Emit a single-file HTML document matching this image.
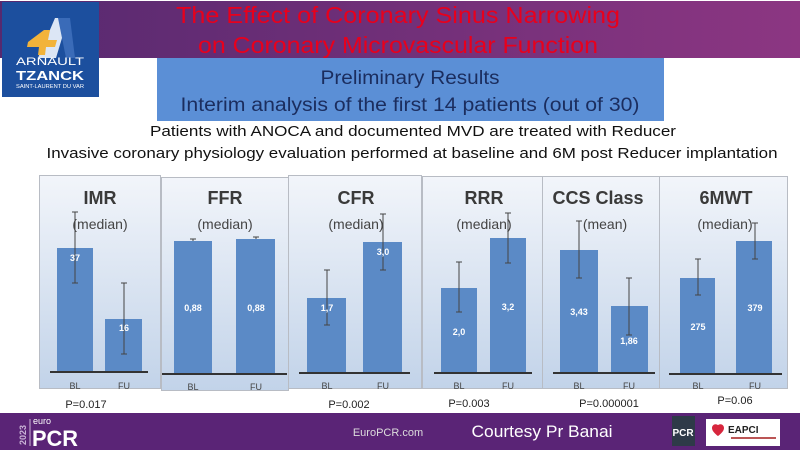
<!DOCTYPE html>
<html><head><meta charset="utf-8"><style>
html,body{margin:0;padding:0;background:#fff;width:800px;height:450px;overflow:hidden}
svg{display:block}
text{font-family:"Liberation Sans",sans-serif}
</style></head><body>
<svg width="800" height="450" viewBox="0 0 800 450" xmlns="http://www.w3.org/2000/svg">
<defs>
<linearGradient id="band" x1="0" x2="1" y1="0" y2="0"><stop offset="0" stop-color="#56296f"/><stop offset="1" stop-color="#8c3682"/></linearGradient>
<linearGradient id="pan" x1="0" x2="0" y1="0" y2="1"><stop offset="0" stop-color="#f2f5fa"/><stop offset="1" stop-color="#c2d3e9"/></linearGradient>
</defs>
<rect x="0" y="1" width="800" height="57" fill="url(#band)"/>
<text x="398" y="23" font-size="23" fill="#e8001c" text-anchor="middle" textLength="444" lengthAdjust="spacingAndGlyphs">The Effect of Coronary Sinus Narrowing</text>
<text x="398" y="53" font-size="23" fill="#e8001c" text-anchor="middle" textLength="400" lengthAdjust="spacingAndGlyphs">on Coronary Microvascular Function</text>
<!-- logo -->
<rect x="2" y="2" width="97" height="95" fill="#1c4f9e"/>
<path d="M38 58 L55 18 L68 18 L56 58 Z" fill="#dce6f5"/>
<path d="M58 18 L70 18 L75 58 L66 58 Z" fill="#3a6bb8"/>
<path d="M28 42 L44 30 L50 30 L48 40 L57 40 L55 47 L46 47 L45 55 L38 55 L39 47 L27 47 Z" fill="#f2b33a"/>
<text x="50" y="65" font-size="11" fill="#fff" text-anchor="middle" textLength="68" lengthAdjust="spacingAndGlyphs">ARNAULT</text>
<text x="50" y="80" font-size="13" font-weight="bold" fill="#fff" text-anchor="middle" textLength="68" lengthAdjust="spacingAndGlyphs">TZANCK</text>
<text x="50" y="88" font-size="5" fill="#fff" text-anchor="middle" textLength="68" lengthAdjust="spacingAndGlyphs">SAINT-LAURENT DU VAR</text>
<!-- blue box -->
<rect x="157" y="58" width="507" height="63" fill="#5b8fd6"/>
<text x="410" y="84" font-size="19" fill="#1b2d5e" text-anchor="middle" textLength="179" lengthAdjust="spacingAndGlyphs">Preliminary Results</text>
<text x="410" y="111" font-size="19" fill="#1b2d5e" text-anchor="middle" textLength="459" lengthAdjust="spacingAndGlyphs">Interim analysis of the first 14 patients (out of 30)</text>
<text x="413" y="136" font-size="15" fill="#111" text-anchor="middle" textLength="526" lengthAdjust="spacingAndGlyphs">Patients with ANOCA and documented MVD  are treated with Reducer</text>
<text x="412" y="158" font-size="15" fill="#111" text-anchor="middle" textLength="731" lengthAdjust="spacingAndGlyphs">Invasive coronary physiology evaluation performed at baseline and 6M post Reducer implantation</text>
<!-- panels -->
<g stroke="#b8bcc4" stroke-width="1">
<rect x="39.5" y="175.5" width="121" height="213" fill="url(#pan)"/>
<rect x="161.5" y="177.5" width="127" height="213" fill="url(#pan)"/>
<rect x="288.5" y="175.5" width="133" height="213" fill="url(#pan)"/>
<rect x="422.5" y="176.5" width="120" height="212" fill="url(#pan)"/>
<rect x="542.5" y="176.5" width="117" height="212" fill="url(#pan)"/>
<rect x="659.5" y="176.5" width="128" height="212" fill="url(#pan)"/>
</g>
<g font-weight="bold" font-size="18" fill="#3a3a3a" text-anchor="middle">
<text x="100" y="204">IMR</text><text x="225" y="204">FFR</text><text x="356" y="204">CFR</text>
<text x="484" y="204">RRR</text><text x="598" y="204">CCS Class</text><text x="726" y="204">6MWT</text>
</g>
<g font-size="14" fill="#444" text-anchor="middle">
<text x="100" y="229">(median)</text><text x="225" y="229">(median)</text><text x="356" y="229">(median)</text>
<text x="484" y="229">(median)</text><text x="605" y="229">(mean)</text><text x="725" y="229">(median)</text>
</g>
<!-- bars -->
<g fill="#5b8ac6">
<rect x="57" y="248" width="36" height="124"/><rect x="105" y="319" width="37" height="53"/>
<rect x="174" y="241" width="38" height="133"/><rect x="236" y="239" width="39" height="135"/>
<rect x="307" y="298" width="39" height="74"/><rect x="363" y="242" width="39" height="130"/>
<rect x="441" y="288" width="36" height="85"/><rect x="490" y="238" width="36" height="135"/>
<rect x="560" y="250" width="38" height="123"/><rect x="611" y="306" width="37" height="67"/>
<rect x="680" y="278" width="35" height="95"/><rect x="736" y="241" width="36" height="132"/>
</g>
<g stroke="#333" stroke-width="2">
<line x1="50" y1="372" x2="148" y2="372"/><line x1="162" y1="374" x2="287" y2="374"/>
<line x1="299" y1="373" x2="410" y2="373"/><line x1="434" y1="373" x2="532" y2="373"/>
<line x1="553" y1="373" x2="655" y2="373"/><line x1="669" y1="374" x2="782" y2="374"/>
</g>
<g stroke="#444" stroke-width="1" fill="none">
<path d="M75 212V283M72 212h6M72 283h6"/><path d="M124 283V354M121 283h6M121 354h6"/>
<path d="M193 239V241M190 239h6"/><path d="M256 237V239M253 237h6"/>
<path d="M327 270V325M324 270h6M324 325h6"/><path d="M383 214V270M380 214h6M380 270h6"/>
<path d="M459 262V312M456 262h6M456 312h6"/><path d="M508 213V263M505 213h6M505 263h6"/>
<path d="M579 221V278M576 221h6M576 278h6"/><path d="M629 278V335M626 278h6M626 335h6"/>
<path d="M698 259V295M695 259h6M695 295h6"/><path d="M755 223V259M752 223h6M752 259h6"/>
</g>
<g font-size="9" font-weight="bold" fill="#fff" text-anchor="middle">
<text x="75" y="261">37</text><text x="124" y="331">16</text>
<text x="193" y="311">0,88</text><text x="256" y="311">0,88</text>
<text x="327" y="311">1,7</text><text x="383" y="255">3,0</text>
<text x="459" y="335">2,0</text><text x="508" y="310">3,2</text>
<text x="579" y="315">3,43</text><text x="629" y="344">1,86</text>
<text x="698" y="330">275</text><text x="755" y="311">379</text>
</g>
<g font-size="9" fill="#444" text-anchor="middle">
<text x="75" y="389">BL</text><text x="124" y="389">FU</text>
<text x="193" y="390">BL</text><text x="256" y="390">FU</text>
<text x="327" y="389">BL</text><text x="383" y="389">FU</text>
<text x="459" y="389">BL</text><text x="508" y="389">FU</text>
<text x="579" y="389">BL</text><text x="629" y="389">FU</text>
<text x="698" y="389">BL</text><text x="755" y="389">FU</text>
</g>
<g font-size="11" fill="#222" text-anchor="middle">
<text x="86" y="408">P=0.017</text><text x="349" y="408">P=0.002</text>
<text x="469" y="407">P=0.003</text><text x="609" y="407">P=0.000001</text><text x="735" y="404">P=0.06</text>
</g>
<!-- footer -->
<rect x="0" y="413" width="800" height="37" fill="#5a2476"/>
<text x="26" y="445" font-size="9" font-weight="bold" fill="#c9b3d6" transform="rotate(-90 26 445)">2023</text>
<line x1="30" y1="419" x2="30" y2="446" stroke="#c9b3d6" stroke-width="1"/>
<text x="33" y="424" font-size="9" fill="#fff">euro</text>
<text x="32" y="446" font-size="22" font-weight="bold" fill="#fff" textLength="46" lengthAdjust="spacingAndGlyphs">PCR</text>
<text x="388" y="436" font-size="11" fill="#ddd" text-anchor="middle">EuroPCR.com</text>
<text x="542" y="437" font-size="17" fill="#fff" text-anchor="middle" textLength="141" lengthAdjust="spacingAndGlyphs">Courtesy Pr Banai</text>
<rect x="672" y="416" width="23" height="30" fill="#2e3a48"/>
<text x="683" y="436" font-size="10" font-weight="bold" fill="#fff" text-anchor="middle">PCR</text>
<rect x="706" y="419" width="74" height="27" fill="#fff"/>
<path d="M718 425c-3-2-6 0-6 3c0 4 6 8 6 8s6-4 6-8c0-3-3-5-6-3z" fill="#d7263d"/>
<text x="728" y="433" font-size="10" font-weight="bold" fill="#222">EAPCI</text>
<rect x="731" y="437" width="45" height="2" fill="#b55"/>
</svg>
</body></html>
